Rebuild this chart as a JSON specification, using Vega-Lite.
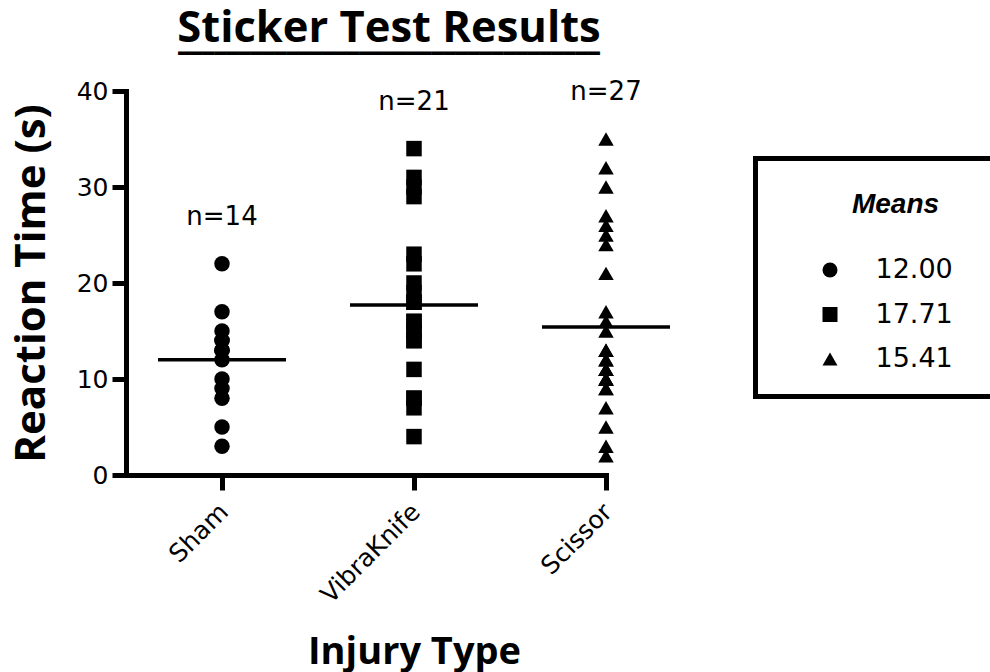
{
  "$schema": "https://vega.github.io/schema/vega-lite/v6.json",
  "width": 480,
  "height": 384,
  "autosize": "none",
  "padding": {"left": 126, "top": 91, "right": 384, "bottom": 197},
  "background": "white",
  "title": {
    "text": "Sticker Test Results",
    "subtitle": "━━━━━━━━━━━━━━━━━━━━━━━━━━━━━━━━━━━",
    "font": "Open Sans",
    "fontSize": 43.5,
    "fontWeight": "bold",
    "color": "black",
    "anchor": "middle",
    "dx": 23,
    "offset": 14,
    "subtitleFont": "DejaVu Sans",
    "subtitleFontSize": 20,
    "subtitleColor": "black",
    "subtitlePadding": -7
  },
  "config": {
    "view": {"stroke": null},
    "font": "DejaVu Sans",
    "legend": {"strokeWidth": 5},
    "axisY": {
      "domainWidth": 5, "domainColor": "black", "domainCap": "square",
      "tickWidth": 5, "tickColor": "black", "tickSize": 14, "tickCount": 4,
      "labelFont": "DejaVu Sans", "labelFontSize": 25, "labelColor": "black", "labelPadding": 4,
      "grid": false,
      "titleFont": "Open Sans", "titleFontSize": 42, "titleFontWeight": "bold", "titleColor": "black",
      "titleX": -82, "titleY": 192, "titleAngle": -90, "titleBaseline": "alphabetic", "titleAlign": "center"
    },
    "axisX": {
      "domainWidth": 5, "domainColor": "black", "domainCap": "square",
      "tickWidth": 5, "tickColor": "black", "tickSize": 15,
      "labelFont": "DejaVu Sans", "labelFontSize": 25, "labelColor": "black", "labelPadding": 9, "labelOffset": -7, "labelAngle": -45,
      "grid": false,
      "titleFont": "Open Sans", "titleFontSize": 38, "titleFontWeight": "bold", "titleColor": "black",
      "titleX": 288, "titleY": 188, "titleBaseline": "alphabetic", "titleAlign": "center"
    }
  },
  "data": {
    "values": [
      {"group": "Sham", "value": 22}, {"group": "Sham", "value": 17}, {"group": "Sham", "value": 15},
      {"group": "Sham", "value": 14}, {"group": "Sham", "value": 14}, {"group": "Sham", "value": 13},
      {"group": "Sham", "value": 13}, {"group": "Sham", "value": 13}, {"group": "Sham", "value": 12},
      {"group": "Sham", "value": 10}, {"group": "Sham", "value": 9}, {"group": "Sham", "value": 8},
      {"group": "Sham", "value": 5}, {"group": "Sham", "value": 3},
      {"group": "VibraKnife", "value": 34}, {"group": "VibraKnife", "value": 31}, {"group": "VibraKnife", "value": 30},
      {"group": "VibraKnife", "value": 29}, {"group": "VibraKnife", "value": 23}, {"group": "VibraKnife", "value": 22},
      {"group": "VibraKnife", "value": 20}, {"group": "VibraKnife", "value": 19}, {"group": "VibraKnife", "value": 18},
      {"group": "VibraKnife", "value": 18}, {"group": "VibraKnife", "value": 16}, {"group": "VibraKnife", "value": 16},
      {"group": "VibraKnife", "value": 15}, {"group": "VibraKnife", "value": 15}, {"group": "VibraKnife", "value": 14},
      {"group": "VibraKnife", "value": 14}, {"group": "VibraKnife", "value": 11}, {"group": "VibraKnife", "value": 8},
      {"group": "VibraKnife", "value": 8}, {"group": "VibraKnife", "value": 7}, {"group": "VibraKnife", "value": 4},
      {"group": "Scissor", "value": 35}, {"group": "Scissor", "value": 32}, {"group": "Scissor", "value": 30},
      {"group": "Scissor", "value": 27}, {"group": "Scissor", "value": 26}, {"group": "Scissor", "value": 25},
      {"group": "Scissor", "value": 24}, {"group": "Scissor", "value": 21}, {"group": "Scissor", "value": 17},
      {"group": "Scissor", "value": 16}, {"group": "Scissor", "value": 15}, {"group": "Scissor", "value": 13},
      {"group": "Scissor", "value": 13}, {"group": "Scissor", "value": 12}, {"group": "Scissor", "value": 12},
      {"group": "Scissor", "value": 11}, {"group": "Scissor", "value": 11}, {"group": "Scissor", "value": 11},
      {"group": "Scissor", "value": 10}, {"group": "Scissor", "value": 10}, {"group": "Scissor", "value": 10},
      {"group": "Scissor", "value": 9}, {"group": "Scissor", "value": 9}, {"group": "Scissor", "value": 7},
      {"group": "Scissor", "value": 5}, {"group": "Scissor", "value": 3}, {"group": "Scissor", "value": 2}
    ]
  },
  "transform": [
    {"joinaggregate": [{"op": "mean", "field": "value", "as": "avg"}], "groupby": ["group"]},
    {"calculate": "format(datum.avg, '.2f')", "as": "meanLabel"}
  ],
  "encoding": {
    "x": {
      "field": "group", "type": "nominal",
      "sort": ["Sham", "VibraKnife", "Scissor"],
      "scale": {"type": "point", "padding": 0.25, "align": 1},
      "title": "Injury Type"
    }
  },
  "layer": [
    {
      "mark": {"type": "point", "filled": true, "color": "black", "size": 240, "opacity": 1},
      "encoding": {
        "y": {"field": "value", "type": "quantitative", "scale": {"domain": [0, 40], "nice": false}, "title": "Reaction Time (s)"},
        "shape": {
          "field": "meanLabel", "type": "nominal",
          "scale": {"domain": ["12.00", "17.71", "15.41"], "range": ["circle", "square", "triangle-up"]},
          "legend": {
            "orient": "none", "legendX": 629.5, "legendY": 67.5,
            "title": "Means",
            "titleFont": "Liberation Sans", "titleFontSize": 28, "titleFontStyle": "italic", "titleFontWeight": "bold",
            "titleColor": "black", "titleAnchor": "middle", "titlePadding": 46,
            "titleBaseline": "line-top", "titleLineHeight": 44,
            "strokeColor": "black", "padding": 24,
            "symbolOffset": 37, "labelOffset": 32,
            "labelFont": "DejaVu Sans", "labelFontSize": 27, "labelColor": "black",
            "rowPadding": 16.5, "symbolSize": 225, "symbolFillColor": "black", "symbolStrokeWidth": 0,
            "labelExpr": "datum.label + '\u2800\u2800\u2800'",
            "encode": {"legend": {"update": {"strokeWidth": {"value": 5}}}}
          }
        }
      }
    },
    {
      "mark": {"type": "tick", "color": "black", "size": 128, "thickness": 3.5, "opacity": 1},
      "encoding": {
        "y": {"aggregate": "mean", "field": "value", "type": "quantitative", "title": "Reaction Time (s)"}
      }
    },
    {
      "transform": [
        {"aggregate": [{"op": "count", "as": "n"}, {"op": "max", "field": "value", "as": "top"}], "groupby": ["group"]},
        {"calculate": "'n=' + datum.n", "as": "nlabel"}
      ],
      "mark": {"type": "text", "font": "DejaVu Sans", "fontSize": 26, "dy": -47, "baseline": "middle", "color": "black"},
      "encoding": {
        "y": {"field": "top", "type": "quantitative", "title": "Reaction Time (s)"},
        "text": {"field": "nlabel"}
      }
    }
  ]
}
